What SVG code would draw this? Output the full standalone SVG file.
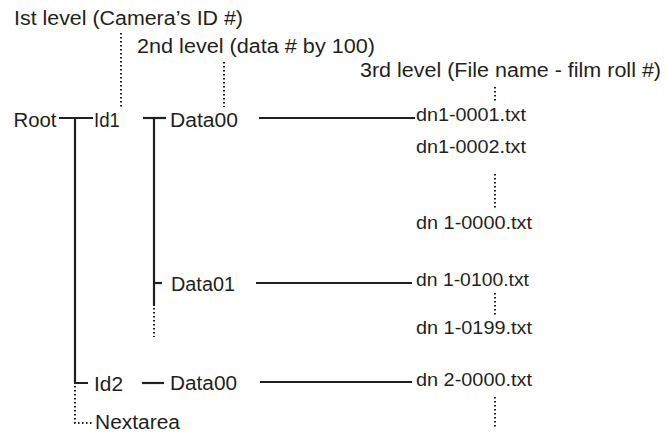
<svg xmlns="http://www.w3.org/2000/svg" width="666" height="433" viewBox="0 0 666 433">
<style>
text{font-family:"Liberation Sans",Arial,sans-serif;fill:#231f20}
.lbl{font-size:20px}
.nd{font-size:20px}
.fn{font-size:18.5px}
.s{stroke:#231f20;stroke-width:2.2;fill:none}
.d{stroke:#231f20;stroke-width:2;fill:none;stroke-dasharray:1.5 2.5}
</style>
<rect width="666" height="433" fill="#ffffff"/>
<g id="labels">
<text class="lbl" x="14" y="25" textLength="229" lengthAdjust="spacingAndGlyphs">Ist level (Camera’s ID #)</text>
<text class="lbl" x="137" y="52.5" textLength="238" lengthAdjust="spacingAndGlyphs">2nd level (data # by 100)</text>
<text class="lbl" x="360" y="77" textLength="301" lengthAdjust="spacingAndGlyphs">3rd level (File name - film roll #)</text>
</g>
<g id="connectors">
<line class="d" x1="121" y1="33" x2="121" y2="107"/>
<line class="d" x1="224" y1="62" x2="224" y2="107"/>
<line class="d" x1="495" y1="87" x2="495" y2="102"/>
<line class="s" x1="59" y1="118" x2="93" y2="118"/>
<polyline class="s" points="75,118 75,383 88,383"/>
<line class="s" x1="143" y1="118" x2="166" y2="118"/>
<line class="s" x1="154" y1="118" x2="154" y2="306"/>
<line class="d" x1="154" y1="308" x2="154" y2="337"/>
<line class="s" x1="259" y1="118" x2="415" y2="118"/>
<line class="d" x1="495" y1="174" x2="495" y2="208"/>
<line class="s" x1="154" y1="283" x2="162" y2="283"/>
<line class="s" x1="256" y1="283" x2="412" y2="283"/>
<line class="d" x1="495" y1="293" x2="495" y2="316"/>
<line class="s" x1="142" y1="383" x2="164" y2="383"/>
<line class="s" x1="260" y1="382" x2="412" y2="382"/>
<line class="d" x1="495" y1="397" x2="495" y2="429"/>
<polyline class="d" points="75,386 75,423 93,423"/>
</g>
<g id="root"><text class="nd" x="13.5" y="127" textLength="43" lengthAdjust="spacingAndGlyphs">Root</text></g>
<g id="id1"><text class="nd" x="94" y="127" textLength="26" lengthAdjust="spacingAndGlyphs">Id1</text></g>
<g id="data00a"><text class="nd" x="170" y="127" textLength="68" lengthAdjust="spacingAndGlyphs">Data00</text></g>
<g id="f1"><text class="fn" x="416" y="120.7" textLength="110" lengthAdjust="spacingAndGlyphs">dn1-0001.txt</text></g>
<g id="f2"><text class="fn" x="416" y="152.7" textLength="110" lengthAdjust="spacingAndGlyphs">dn1-0002.txt</text></g>
<g id="f3"><text class="fn" x="416" y="229.3" textLength="116" lengthAdjust="spacingAndGlyphs">dn 1-0000.txt</text></g>
<g id="data01"><text class="nd" x="171" y="290.7" textLength="64" lengthAdjust="spacingAndGlyphs">Data01</text></g>
<g id="f4"><text class="fn" x="416" y="286" textLength="113" lengthAdjust="spacingAndGlyphs">dn 1-0100.txt</text></g>
<g id="f5"><text class="fn" x="416" y="334.3" textLength="116" lengthAdjust="spacingAndGlyphs">dn 1-0199.txt</text></g>
<g id="id2"><text class="nd" x="94" y="390.5" textLength="29" lengthAdjust="spacingAndGlyphs">Id2</text></g>
<g id="data00b"><text class="nd" x="170" y="389.5" textLength="67" lengthAdjust="spacingAndGlyphs">Data00</text></g>
<g id="f6"><text class="fn" x="416" y="386" textLength="116" lengthAdjust="spacingAndGlyphs">dn 2-0000.txt</text></g>
<g id="nextarea"><text class="nd" x="95" y="429" textLength="85" lengthAdjust="spacingAndGlyphs">Nextarea</text></g>
</svg>
